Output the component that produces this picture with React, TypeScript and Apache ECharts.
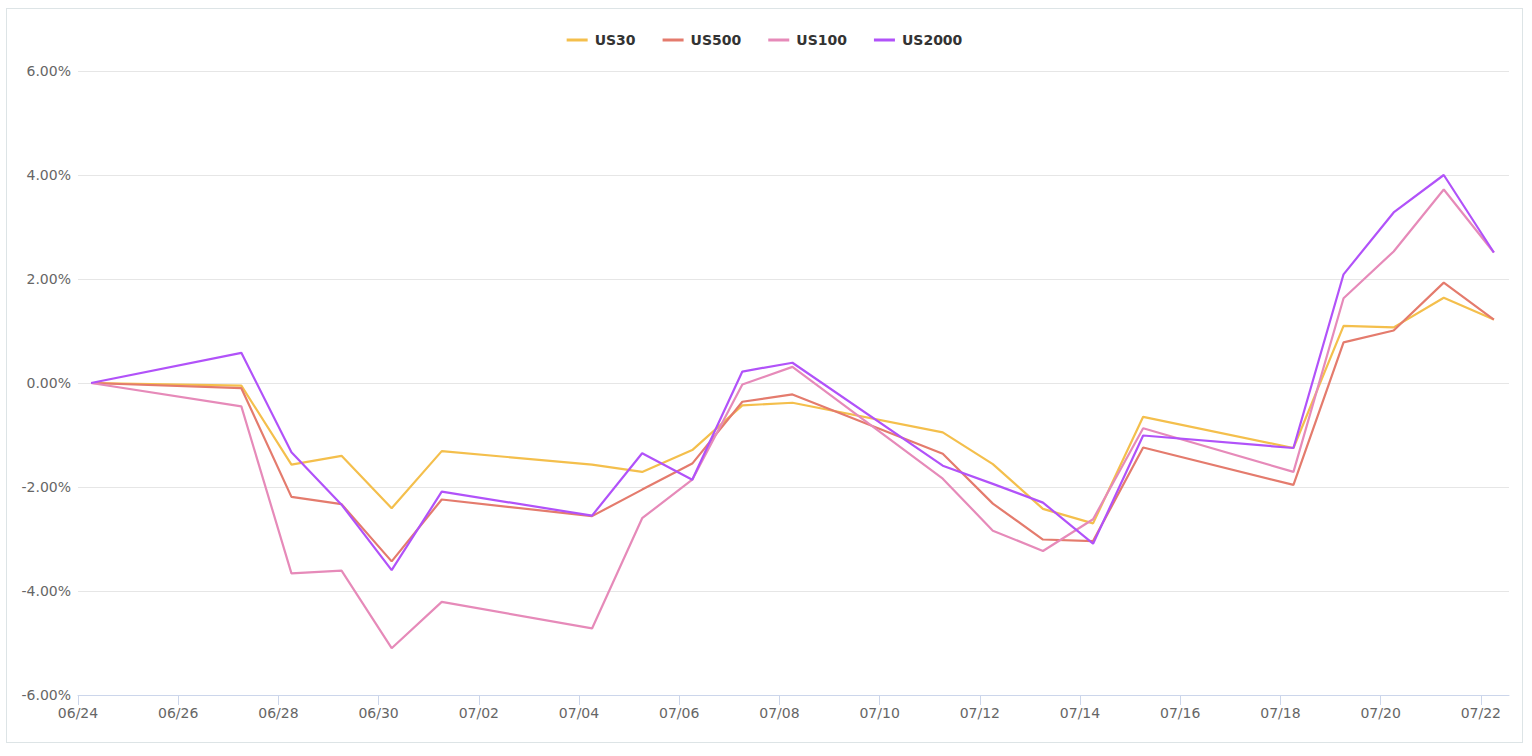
import React, { useEffect, useRef } from "react";
import * as echarts from "echarts";

// ---- data ----
const dates = [
  "2024-06-24", "2024-06-27", "2024-06-28", "2024-06-29", "2024-06-30", "2024-07-01",
  "2024-07-04", "2024-07-05", "2024-07-06", "2024-07-07", "2024-07-08",
  "2024-07-11", "2024-07-12", "2024-07-13", "2024-07-14", "2024-07-15",
  "2024-07-18", "2024-07-19", "2024-07-20", "2024-07-21", "2024-07-22",
];
const timeOfDay = "06:15";
const seriesNames = ["US30", "US500", "US100", "US2000"];
const us30 = [0, -0.05, -1.57, -1.4, -2.41, -1.31, -1.57, -1.71, -1.29, -0.43, -0.38, -0.95, -1.56, -2.42, -2.7, -0.65, -1.25, 1.1, 1.07, 1.64, 1.22];
const us500 = [0, -0.1, -2.19, -2.33, -3.43, -2.24, -2.56, -2.05, -1.55, -0.36, -0.22, -1.36, -2.32, -3.01, -3.04, -1.24, -1.96, 0.78, 1.01, 1.93, 1.22];
const us100 = [0, -0.45, -3.66, -3.61, -5.1, -4.21, -4.72, -2.6, -1.86, -0.03, 0.31, -1.84, -2.84, -3.23, -2.62, -0.87, -1.71, 1.63, 2.53, 3.72, 2.51];
const us2000 = [0, 0.58, -1.33, -2.34, -3.6, -2.09, -2.55, -1.35, -1.86, 0.22, 0.39, -1.59, -1.94, -2.3, -3.09, -1.01, -1.25, 2.09, 3.28, 4.0, 2.51];
const seriesValues = [us30, us500, us100, us2000];
const colors = ["#f4bf4c", "#e47b6d", "#e68ab9", "#b152f9"];
const axisStart = "2024-06-24T00:00";
const axisEnd = "2024-07-22T13:30";
const tickStepDays = 2;
const yMin = -6;
const yMax = 6;
const yStep = 2;

const DAY = 86400000;
const base = Date.parse(axisStart + "Z");
const toDays = (s: string) => (Date.parse(s + "Z") - base) / DAY;
const pad = (n: number) => (n < 10 ? "0" + n : "" + n);
const fmtDay = (v: number) => {
  const d = new Date(base + v * DAY);
  return pad(d.getUTCMonth() + 1) + "/" + pad(d.getUTCDate());
};

export default function App() {
  const ref = useRef<HTMLDivElement>(null);
  useEffect(() => {
    if (!ref.current) return;
    const chart = echarts.init(ref.current, undefined, { renderer: "svg" });
    const maxDays = toDays(axisEnd);
    const xTicks: number[] = [];
    for (let d = 0; d <= maxDays; d += tickStepDays) xTicks.push(d);
    const font = "DejaVu Sans";
    chart.setOption({
      animation: false,
      color: colors,
      textStyle: { fontFamily: font },
      legend: {
        top: 19,
        left: "center",
        icon: "rect",
        itemWidth: 21,
        itemHeight: 3,
        itemGap: 27,
        textStyle: { fontFamily: font, fontSize: 14, fontWeight: "bold", color: "#333", padding: [0, 0, 0, 2] },
        data: seriesNames,
      },
      grid: { left: 71, right: 13, top: 62, bottom: 47, containLabel: false },
      xAxis: {
        type: "value",
        min: 0,
        max: maxDays,
        interval: tickStepDays,
        axisLine: { show: true, onZero: false, lineStyle: { color: "#ccd6eb", width: 1 } },
        axisTick: { show: true, length: 10, lineStyle: { color: "#ccd6eb" }, customValues: xTicks },
        axisLabel: {
          customValues: xTicks,
          formatter: (v: number) => fmtDay(v),
          fontFamily: font,
          fontSize: 14,
          color: "#666",
          margin: 11,
        },
        splitLine: { show: false },
      },
      yAxis: {
        type: "value",
        min: yMin,
        max: yMax,
        interval: yStep,
        axisLine: { show: false },
        axisTick: { show: false },
        axisLabel: {
          formatter: (v: number) => v.toFixed(2) + "%",
          fontFamily: font,
          fontSize: 14,
          color: "#666",
          margin: 7,
        },
        splitLine: { lineStyle: { color: "#e6e6e6", width: 1 } },
      },
      series: seriesNames.map((name, i) => ({
        name,
        type: "line",
        symbol: "none",
        lineStyle: { width: 2.2, color: colors[i] },
        itemStyle: { color: colors[i] },
        data: dates.map((d, j) => [toDays(d + "T" + timeOfDay), seriesValues[i][j]]),
      })),
    });
    return () => chart.dispose();
  }, []);
  return (
    <div
      style={{
        position: "absolute",
        left: 6,
        top: 8,
        width: 1517,
        height: 735,
        boxSizing: "border-box",
        border: "1px solid #dde4e6",
        background: "#fff",
      }}
    >
      <div ref={ref} style={{ width: 1515, height: 733 }} />
    </div>
  );
}
